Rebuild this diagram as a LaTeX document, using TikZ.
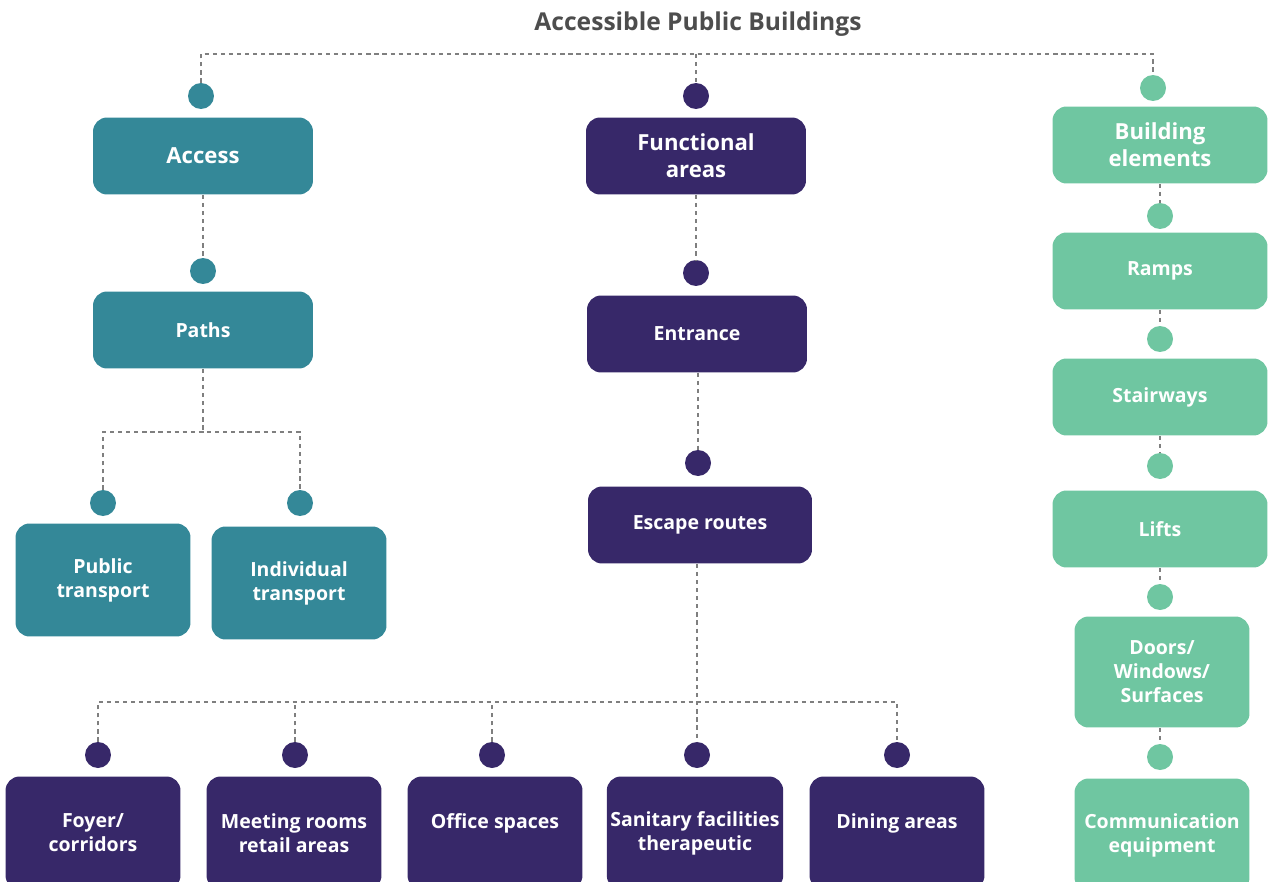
\documentclass[tikz,border=0pt]{standalone}
\usepackage{fontspec}
\setmainfont{Open Sans}
\usetikzlibrary{positioning}

\definecolor{accessteal}{HTML}{348898}
\definecolor{areapurple}{HTML}{372869}
\definecolor{elemgreen}{HTML}{6FC6A1}
\definecolor{linkgray}{HTML}{7F7F7F}
\definecolor{titlegray}{HTML}{4D4D4D}

\tikzset{
    box/.style={fill=#1, rounded corners=8pt, text=white, align=center, inner sep=2pt,
        font=\bfseries\fontsize{11.1}{13.6}\selectfont},
    bigbox/.style={box=#1, minimum width=4.4cm, minimum height=1.54cm,
        font=\bfseries\fontsize{12.6}{15.5}\selectfont},
    midbox/.style={box=#1, minimum width=4.4cm, minimum height=1.54cm},
    smallbox/.style={box=#1, minimum width=3.5cm, minimum height=2.26cm},
    joint/.style={circle, fill=#1, minimum size=0.52cm, inner sep=0pt},
    link/.style={linkgray, line width=1.6pt, dash pattern=on 2.4pt off 2.2pt},
}

\begin{document}
\begin{tikzpicture}[x=0.02cm, y=-0.02cm]
    \useasboundingbox (0,0) rectangle (1268,882);

    % Title
    \node[font=\bfseries\fontsize{14}{17}\selectfont, text=titlegray] (title) at (698,24) {Accessible Public Buildings};
    \coordinate (topbar) at (696,54);

    % Access branch
    \node[joint=accessteal] (jaccess) at (201,96) {};
    \node[bigbox=accessteal] (access) at (203,156) {Access};
    \node[joint=accessteal] (jpaths) at (203,271) {};
    \node[midbox=accessteal] (paths) at (203,330) {Paths};
    \coordinate (pathsfork) at (203,432);
    \node[joint=accessteal] (jpublic) at (103,503) {};
    \node[joint=accessteal] (jindiv) at (300,503) {};
    \node[smallbox=accessteal] (public) at (103,580) {Public\\transport};
    \node[smallbox=accessteal] (indiv) at (299,583) {Individual\\transport};

    % Functional areas branch
    \node[joint=areapurple] (jfunc) at (696,96) {};
    \node[bigbox=areapurple] (func) at (696,156) {Functional\\areas};
    \node[joint=areapurple] (jentrance) at (696,273) {};
    \node[midbox=areapurple] (entrance) at (697,334) {Entrance};
    \node[joint=areapurple] (jescape) at (698,463) {};
    \node[midbox=areapurple, minimum width=4.48cm] (escape) at (700,525) {Escape routes};
    \coordinate (escfork) at (697,702);
    \node[joint=areapurple] (jfoyer) at (98,755) {};
    \node[joint=areapurple] (jmeeting) at (295,755) {};
    \node[joint=areapurple] (joffice) at (492,755) {};
    \node[joint=areapurple] (jsanitary) at (697,755) {};
    \node[joint=areapurple] (jdining) at (897,755) {};
    \node[smallbox=areapurple] (foyer) at (93,833) {Foyer/\\corridors};
    \node[smallbox=areapurple] (meeting) at (294,833) {Meeting rooms\\retail areas};
    \node[smallbox=areapurple] (office) at (495,833) {Office spaces\\\mbox{}};
    \node[smallbox=areapurple] (sanitary) at (695,833) {Sanitary facilities\\therapeutic};
    \node[smallbox=areapurple] (dining) at (897,833) {Dining areas\\\mbox{}};

    % Building elements branch
    \node[joint=elemgreen] (jbuild) at (1153,88) {};
    \node[bigbox=elemgreen, minimum width=4.3cm] (build) at (1160,145) {Building\\elements};
    \node[joint=elemgreen] (jramps) at (1160,216) {};
    \node[midbox=elemgreen, minimum width=4.3cm] (ramps) at (1160,271) {Ramps};
    \node[joint=elemgreen] (jstairs) at (1160,339) {};
    \node[midbox=elemgreen, minimum width=4.3cm] (stairs) at (1160,397) {Stairways};
    \node[joint=elemgreen] (jlifts) at (1160,466) {};
    \node[midbox=elemgreen, minimum width=4.3cm] (lifts) at (1160,529) {Lifts};
    \node[joint=elemgreen] (jdoors) at (1160,597) {};
    \node[smallbox=elemgreen, minimum height=2.22cm] (doors) at (1162,672) {Doors/\\Windows/\\Surfaces};
    \node[joint=elemgreen] (jcomm) at (1160,757) {};
    \node[smallbox=elemgreen] (comm) at (1162,835) {Communication\\equipment};

    % Connectors
    \draw[link] (jaccess) |- (topbar) -| (jbuild);
    \draw[link] (topbar) -- (jfunc);
    \draw[link] (access) -- (jpaths);
    \draw[link] (paths) -- (pathsfork);
    \draw[link] (jpublic) |- (pathsfork) -| (jindiv);
    \draw[link] (func) -- (jentrance);
    \draw[link] (entrance.south -| jescape) -- (jescape);
    \draw[link] (escape.south -| escfork) -- (jsanitary);
    \draw[link] (jfoyer) |- (escfork) -| (jdining);
    \draw[link] (jmeeting) -- (jmeeting |- escfork);
    \draw[link] (joffice) -- (joffice |- escfork);
    \draw[link] (build) -- (jramps);
    \draw[link] (ramps) -- (jstairs);
    \draw[link] (stairs) -- (jlifts);
    \draw[link] (lifts) -- (jdoors);
    \draw[link] (doors.south -| jcomm) -- (jcomm);
\end{tikzpicture}
\end{document}
